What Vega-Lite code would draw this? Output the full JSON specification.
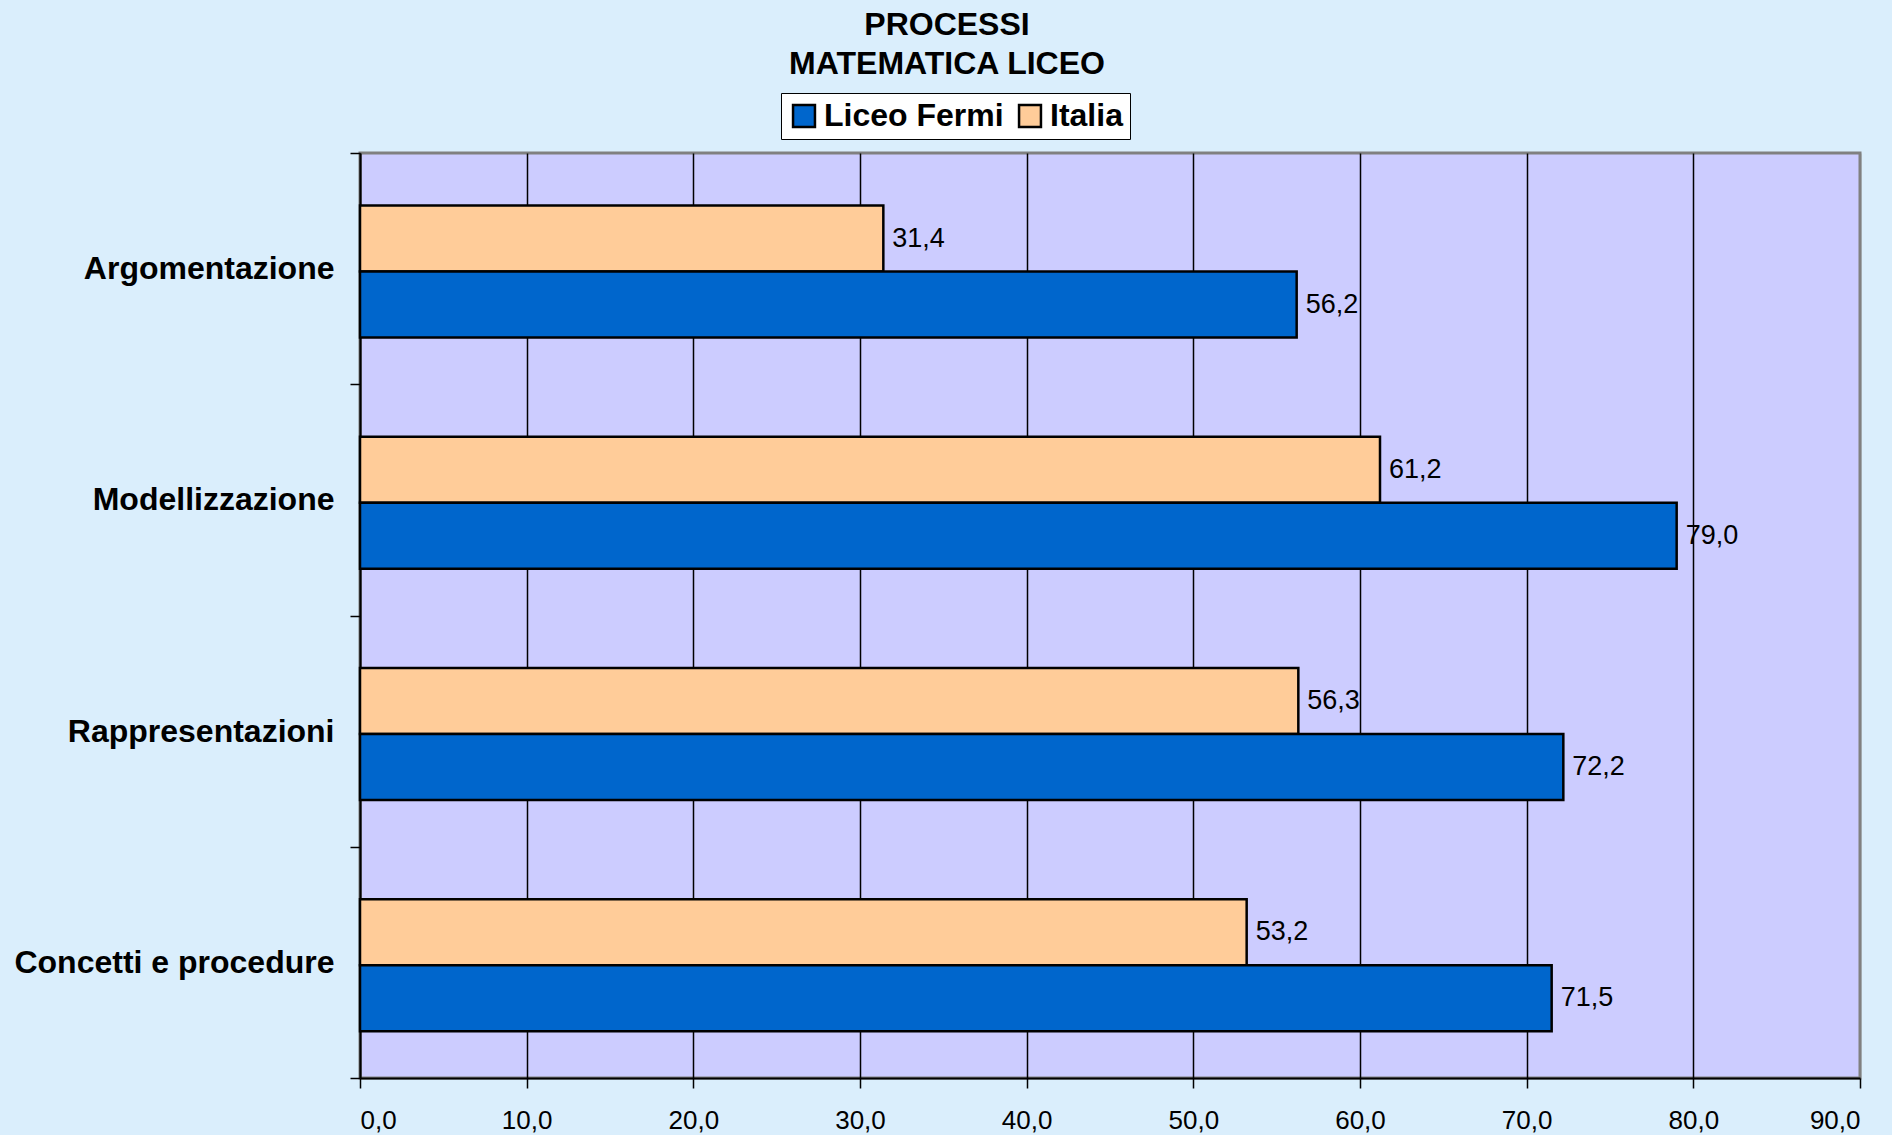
{
  "$schema": "https://vega.github.io/schema/vega-lite/v6.json",
  "width": 1500,
  "height": 925,
  "autosize": {"type": "none"},
  "padding": {"left": 360, "top": 153, "right": 32, "bottom": 57},
  "background": "#DAEEFC",
  "title": {
    "text": ["PROCESSI", "MATEMATICA LICEO"],
    "anchor": "middle",
    "frame": "group",
    "dx": -163,
    "offset": 12,
    "font": "Liberation Sans",
    "fontSize": 32,
    "fontWeight": "bold",
    "lineHeight": 39,
    "color": "#000000"
  },
  "config": {
    "locale": {"number": {"decimal": ",", "thousands": ".", "grouping": [3], "currency": ["", " €"]}},
    "view": {"fill": "#CCCCFF", "stroke": "#808080", "strokeWidth": 3},
    "font": "Liberation Sans"
  },
  "data": {
    "values": [
      {"processo": "Argomentazione", "serie": "Italia", "valore": 31.4},
      {"processo": "Argomentazione", "serie": "Liceo Fermi", "valore": 56.2},
      {"processo": "Modellizzazione", "serie": "Italia", "valore": 61.2},
      {"processo": "Modellizzazione", "serie": "Liceo Fermi", "valore": 79.0},
      {"processo": "Rappresentazioni", "serie": "Italia", "valore": 56.3},
      {"processo": "Rappresentazioni", "serie": "Liceo Fermi", "valore": 72.2},
      {"processo": "Concetti e procedure", "serie": "Italia", "valore": 53.2},
      {"processo": "Concetti e procedure", "serie": "Liceo Fermi", "valore": 71.5}
    ]
  },
  "encoding": {
    "y": {
      "field": "processo",
      "type": "nominal",
      "sort": ["Argomentazione", "Modellizzazione", "Rappresentazioni", "Concetti e procedure"],
      "scale": {"paddingInner": 0, "paddingOuter": 0},
      "axis": {
        "title": null,
        "tickBand": "extent",
        "domainColor": "#000000",
        "domainWidth": 2,
        "tickColor": "#000000",
        "tickWidth": 1.5,
        "tickSize": 10,
        "labelFont": "Liberation Sans",
        "labelFontSize": 32,
        "labelFontWeight": "bold",
        "labelColor": "#000000",
        "labelPadding": 16,
        "labelLimit": 0
      }
    },
    "yOffset": {
      "field": "serie",
      "type": "nominal",
      "scale": {"domain": ["Italia", "Liceo Fermi"], "paddingInner": 0, "paddingOuter": 0.752, "align": 0.53}
    },
    "x": {
      "field": "valore",
      "type": "quantitative",
      "scale": {"domain": [0, 90], "nice": false},
      "axis": {
        "title": null,
        "values": [0, 10, 20, 30, 40, 50, 60, 70, 80, 90],
        "format": ".1f",
        "grid": true,
        "gridColor": {"condition": {"test": "datum.value == 90", "value": "#808080"}, "value": "#000000"},
        "gridWidth": 1.5,
        "gridOpacity": 1,
        "domainColor": "#000000",
        "domainWidth": 2,
        "tickColor": "#000000",
        "tickWidth": 1.5,
        "tickSize": 10,
        "labelFont": "Liberation Sans",
        "labelFontSize": 26,
        "labelColor": "#000000",
        "labelPadding": 19
      }
    }
  },
  "layer": [
    {
      "mark": {"type": "bar", "stroke": "#000000", "strokeWidth": 2.5},
      "encoding": {
        "color": {
          "field": "serie",
          "type": "nominal",
          "scale": {"domain": ["Liceo Fermi", "Italia"], "range": ["#0066CC", "#FFCC99"]},
          "legend": {
            "title": null,
            "orient": "none",
            "legendX": 421,
            "legendY": -60,
            "direction": "horizontal",
            "fillColor": "#FFFFFF",
            "strokeColor": "#000000",
            "padding": 7,
            "symbolType": "square",
            "symbolSize": 480,
            "symbolStrokeColor": "#000000",
            "symbolStrokeWidth": 2.5,
            "symbolOpacity": 1,
            "labelFont": "Liberation Sans",
            "labelFontSize": 32,
            "labelFontWeight": "bold",
            "labelColor": "#000000",
            "labelOffset": 4,
            "columnPadding": 10,
            "labelLimit": 0
          }
        }
      }
    },
    {
      "mark": {"type": "text", "align": "left", "baseline": "middle", "dx": 9, "font": "Liberation Sans", "fontSize": 27, "color": "#000000"},
      "encoding": {
        "text": {"field": "valore", "type": "quantitative", "format": ".1f"}
      }
    }
  ]
}
